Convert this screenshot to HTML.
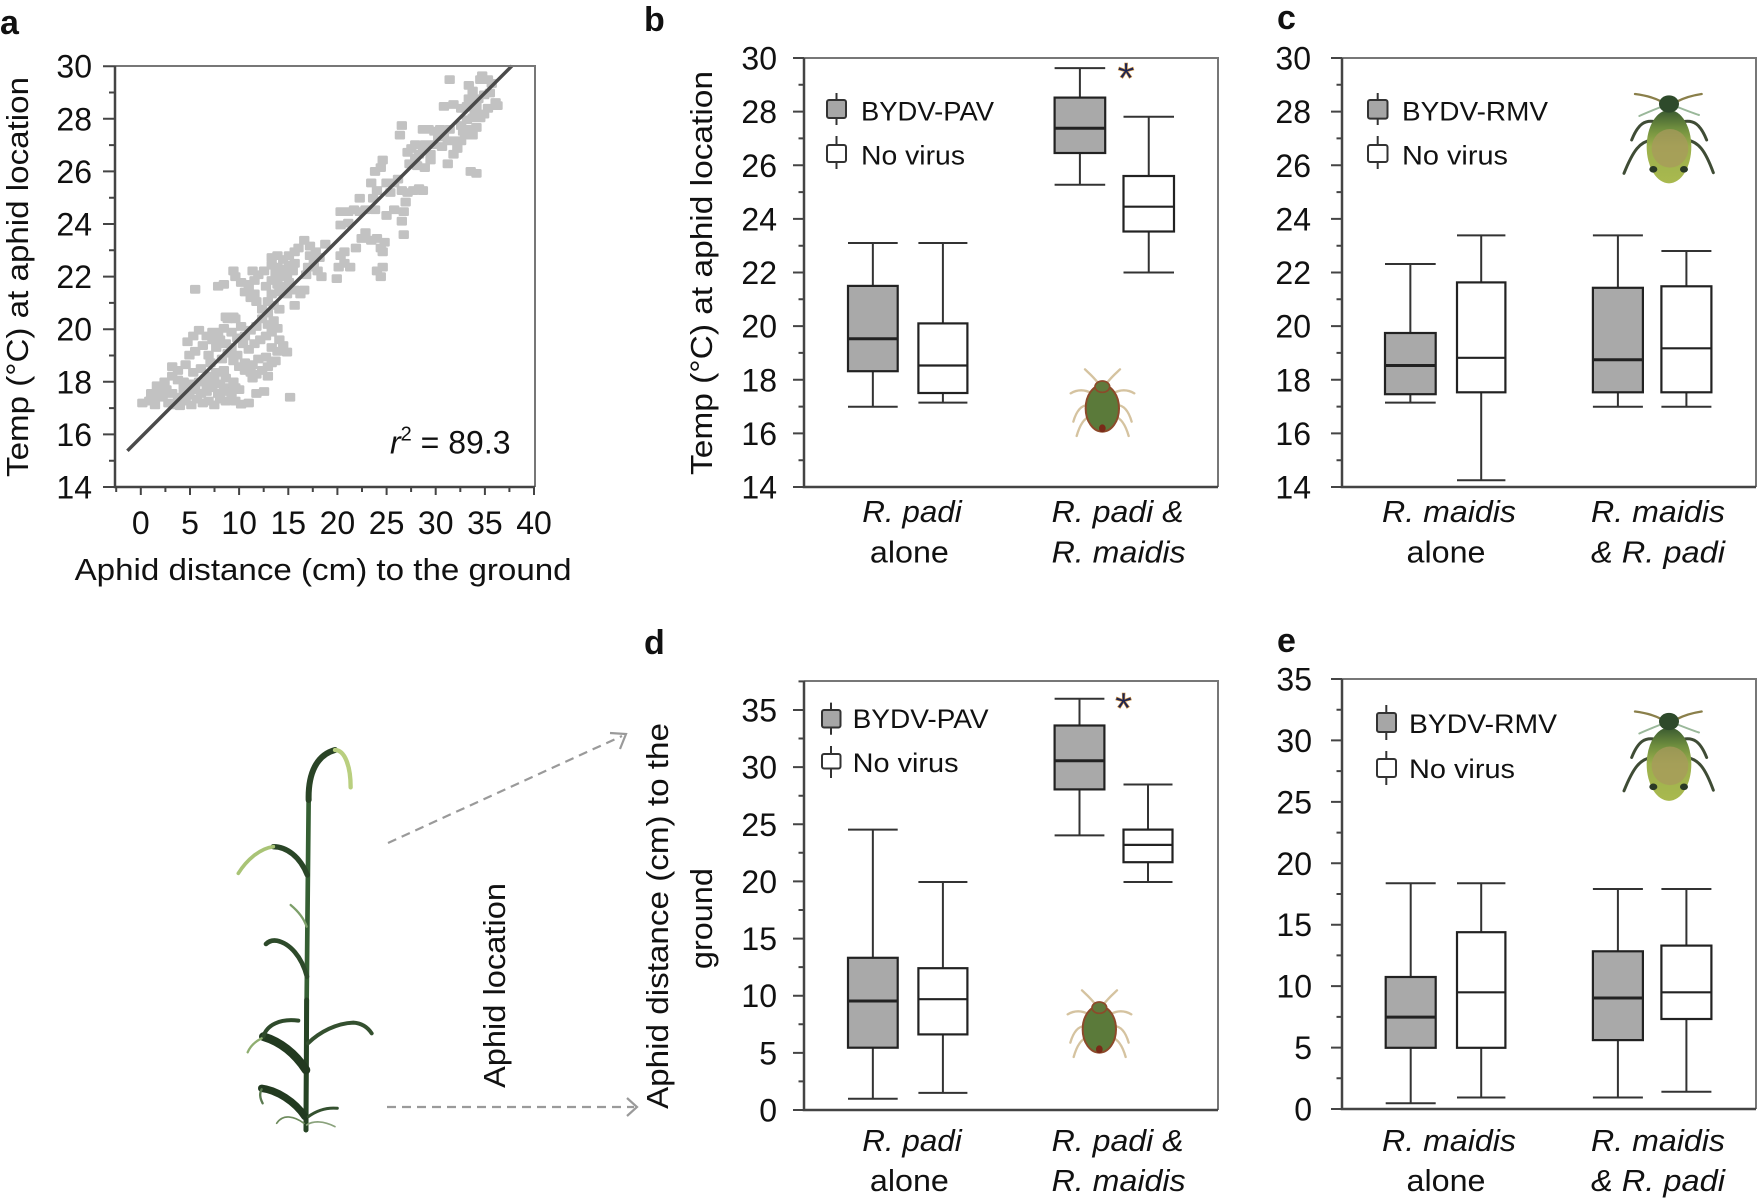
<!DOCTYPE html>
<html><head><meta charset="utf-8"><style>
html,body{margin:0;padding:0;background:#fff;}
svg{display:block;}
text{font-family:"Liberation Sans",Arial,Helvetica,sans-serif;fill:#111;}
</style></head><body>
<svg width="1760" height="1198" viewBox="0 0 1760 1198" xmlns="http://www.w3.org/2000/svg">
<defs>
<linearGradient id="ag" x1="0" y1="0" x2="0" y2="1">
<stop offset="0" stop-color="#3a5a30"/><stop offset="0.25" stop-color="#6f8e3e"/><stop offset="0.5" stop-color="#9cb04c"/><stop offset="1" stop-color="#a9b94f"/>
</linearGradient>
<g id="gaphid">
<g fill="none" stroke-linecap="round">
<path d="M165,95 C135,90 115,100 95,150 M250,95 C280,90 300,100 320,150 M155,150 C120,155 100,180 72,250 M260,150 C295,155 315,180 340,248" stroke="#3f4c35" stroke-width="9"/>
<path d="M185,35 C160,22 130,15 105,12 M230,35 C255,22 285,15 305,12" stroke="#8a7f4a" stroke-width="7"/>
<path d="M190,48 C165,58 140,68 118,78 M225,48 C250,58 275,68 297,75" stroke="#9ab89a" stroke-width="6"/>
</g>
<ellipse cx="207" cy="170" rx="67" ry="110" fill="url(#ag)"/>
<ellipse cx="210" cy="175" rx="55" ry="58" fill="#a89a5c" opacity="0.75"/>
<ellipse cx="207" cy="42" rx="30" ry="26" fill="#2e4a2b"/>
<ellipse cx="160" cy="238" rx="12" ry="10" fill="#2a3a26"/>
<ellipse cx="252" cy="238" rx="12" ry="10" fill="#2a3a26"/>
</g>
<g id="baphid">
<g fill="none" stroke="#d5c3a0" stroke-width="7" stroke-linecap="round">
<path d="M145,70 C130,50 115,38 105,28 M170,70 C185,50 200,38 210,28 M125,100 C105,88 82,88 62,100 M190,100 C210,88 233,88 253,100 M115,135 C95,135 80,150 70,185 M200,135 C220,135 235,150 245,185 M120,170 C100,175 88,200 80,228 M195,170 C215,175 228,200 236,228"/>
</g>
<ellipse cx="157" cy="145" rx="50" ry="70" fill="#5b7a3a" stroke="#8c4a2a" stroke-width="6"/>
<ellipse cx="157" cy="80" rx="22" ry="17" fill="#607a3c" stroke="#8c4a2a" stroke-width="5"/>
<ellipse cx="157" cy="205" rx="10" ry="12" fill="#7a2a18"/>
</g>
</defs>

<!-- ===== Panel a ===== -->
<text x="0" y="34" font-size="34" font-weight="bold">a</text>
<g transform="scale(0.3827)" fill="#c2c2c2" stroke="#c2c2c2" stroke-width="7" stroke-linejoin="round">
<path d="M362 1045h20v16h-20zM380 1040h20v16h-20zM395 1050h20v16h-20zM385 1020h20v16h-20zM400 1000h20v16h-20zM415 1030h20v16h-20zM430 1045h20v16h-20zM445 1050h20v16h-20zM460 1052h20v16h-20zM475 1040h20v16h-20zM490 1050h20v16h-20zM505 1035h20v16h-20zM520 1045h20v16h-20zM535 1040h20v16h-20zM550 1050h20v16h-20zM565 1035h20v16h-20zM580 1040h20v16h-20zM595 1025h20v16h-20zM605 1005h20v16h-20zM590 1005h20v16h-20zM575 1015h20v16h-20zM560 1020h20v16h-20zM545 1005h20v16h-20zM530 1015h20v16h-20zM515 1020h20v16h-20zM500 1010h20v16h-20zM485 1025h20v16h-20zM470 1020h20v16h-20zM455 1030h20v16h-20zM440 1020h20v16h-20zM425 1010h20v16h-20zM410 1015h20v16h-20zM395 1030h20v16h-20zM420 990h20v16h-20zM440 975h20v16h-20zM455 985h20v16h-20zM470 1000h20v16h-20zM490 995h20v16h-20zM510 990h20v16h-20zM530 995h20v16h-20zM550 985h20v16h-20zM565 995h20v16h-20zM580 980h20v16h-20zM600 990h20v16h-20zM615 1010h20v16h-20zM605 1040h20v16h-20zM620 1048h20v16h-20zM640 1045h20v16h-20zM660 1020h20v16h-20zM680 1015h20v16h-20zM748 1030h20v16h-20zM440 950h20v16h-20zM455 960h20v16h-20zM475 945h20v16h-20zM495 965h20v16h-20zM515 955h20v16h-20zM535 975h20v16h-20zM555 965h20v16h-20zM575 960h20v16h-20zM540 940h20v16h-20zM470 990h20v16h-20z"/>
<path d="M570 930h20v16h-20zM585 915h20v16h-20zM600 935h20v16h-20zM615 950h20v16h-20zM630 960h20v16h-20zM645 965h20v16h-20zM660 970h20v16h-20zM675 960h20v16h-20zM690 950h20v16h-20zM700 940h20v16h-20zM685 925h20v16h-20zM665 930h20v16h-20zM650 945h20v16h-20zM630 940h20v16h-20zM610 920h20v16h-20zM595 900h20v16h-20zM580 890h20v16h-20zM565 880h20v16h-20zM560 860h20v16h-20zM575 850h20v16h-20zM595 860h20v16h-20zM610 875h20v16h-20zM625 890h20v16h-20zM640 905h20v16h-20zM655 890h20v16h-20zM670 880h20v16h-20zM685 870h20v16h-20zM700 860h20v16h-20zM715 850h20v16h-20zM705 830h20v16h-20zM690 840h20v16h-20zM675 825h20v16h-20zM660 845h20v16h-20zM645 855h20v16h-20zM630 870h20v16h-20zM620 845h20v16h-20zM605 825h20v16h-20zM580 820h20v16h-20zM720 880h20v16h-20zM730 895h20v16h-20zM740 912h20v16h-20zM715 910h20v16h-20zM700 900h20v16h-20zM710 935h20v16h-20zM690 975h20v16h-20zM650 980h20v16h-20zM480 885h20v16h-20zM495 870h20v16h-20zM510 855h20v16h-20zM530 870h20v16h-20zM545 880h20v16h-20zM520 895h20v16h-20zM500 910h20v16h-20zM485 920h20v16h-20zM535 920h20v16h-20zM555 900h20v16h-20zM545 860h20v16h-20z"/>
<path d="M700 665h20v16h-20zM715 660h20v16h-20zM730 670h20v16h-20zM745 660h20v16h-20zM760 650h20v16h-20zM770 640h20v16h-20zM700 685h20v16h-20zM715 690h20v16h-20zM730 695h20v16h-20zM745 685h20v16h-20zM760 680h20v16h-20zM710 705h20v16h-20zM725 715h20v16h-20zM740 710h20v16h-20zM755 700h20v16h-20zM700 725h20v16h-20zM715 735h20v16h-20zM730 740h20v16h-20zM745 730h20v16h-20zM720 755h20v16h-20zM740 760h20v16h-20zM760 750h20v16h-20zM775 760h20v16h-20zM700 760h20v16h-20zM690 780h20v16h-20zM705 790h20v16h-20zM720 800h20v16h-20zM690 810h20v16h-20zM675 800h20v16h-20zM660 780h20v16h-20zM645 770h20v16h-20zM630 755h20v16h-20zM640 735h20v16h-20zM655 725h20v16h-20zM665 710h20v16h-20zM680 700h20v16h-20zM650 700h20v16h-20zM685 740h20v16h-20zM760 790h20v16h-20zM785 750h20v16h-20zM560 740h20v16h-20zM575 735h20v16h-20zM600 700h20v16h-20zM605 715h20v16h-20zM620 730h20v16h-20zM640 745h20v16h-20zM655 760h20v16h-20zM600 820h20v16h-20zM585 825h20v16h-20zM500 748h20v16h-20zM785 620h20v16h-20zM800 635h20v16h-20zM815 650h20v16h-20zM825 665h20v16h-20zM810 680h20v16h-20zM795 690h20v16h-20zM820 700h20v16h-20zM830 715h20v16h-20zM790 710h20v16h-20zM840 630h20v16h-20zM800 660h20v16h-20z"/>
<path d="M875 690h20v16h-20zM890 680h20v16h-20zM905 690h20v16h-20zM880 660h20v16h-20zM890 650h20v16h-20zM870 720h20v16h-20zM920 640h20v16h-20zM935 615h20v16h-20zM945 600h20v16h-20zM960 620h20v16h-20zM975 615h20v16h-20zM985 640h20v16h-20zM975 700h20v16h-20zM985 715h20v16h-20zM990 690h20v16h-20zM990 650h20v16h-20zM995 625h20v16h-20zM880 580h20v16h-20zM900 545h20v16h-20zM915 540h20v16h-20zM930 545h20v16h-20zM945 540h20v16h-20zM880 545h20v16h-20zM900 575h20v16h-20zM965 510h20v16h-20zM975 490h20v16h-20zM930 510h20v16h-20zM960 470h20v16h-20zM970 440h20v16h-20zM985 430h20v16h-20zM990 410h20v16h-20zM1000 470h20v16h-20zM1010 495h20v16h-20zM1020 470h20v16h-20zM1030 460h20v16h-20zM1040 490h20v16h-20zM1050 520h20v16h-20zM1045 545h20v16h-20zM1040 570h20v16h-20zM1045 605h20v16h-20zM1020 540h20v16h-20zM1000 555h20v16h-20zM970 540h20v16h-20zM1055 495h20v16h-20zM1070 490h20v16h-20zM1085 485h20v16h-20zM1095 490h20v16h-20z"/>
<path d="M1035 345h20v16h-20zM1040 320h20v16h-20zM1055 390h20v16h-20zM1065 380h20v16h-20zM1075 405h20v16h-20zM1085 395h20v16h-20zM1095 385h20v16h-20zM1075 370h20v16h-20zM1060 420h20v16h-20zM1080 425h20v16h-20zM1100 430h20v16h-20zM1115 410h20v16h-20zM1095 330h20v16h-20zM1110 330h20v16h-20zM1125 335h20v16h-20zM1140 330h20v16h-20zM1135 350h20v16h-20zM1150 345h20v16h-20zM1165 330h20v16h-20zM1160 420h20v16h-20zM1175 395h20v16h-20zM1185 380h20v16h-20zM1195 360h20v16h-20zM1205 345h20v16h-20zM1215 330h20v16h-20zM1195 320h20v16h-20zM1210 305h20v16h-20zM1225 300h20v16h-20zM1230 280h20v16h-20zM1245 300h20v16h-20zM1235 325h20v16h-20zM1225 345h20v16h-20zM1200 335h20v16h-20zM1180 360h20v16h-20zM1160 360h20v16h-20zM1145 375h20v16h-20zM1120 370h20v16h-20zM1100 370h20v16h-20zM1220 440h20v16h-20zM1235 445h20v16h-20zM1115 395h20v16h-20zM1165 200h20v16h-20zM1215 215h20v16h-20zM1225 230h20v16h-20zM1240 250h20v16h-20zM1255 240h20v16h-20zM1215 250h20v16h-20zM1250 190h20v16h-20zM1265 200h20v16h-20zM1275 210h20v16h-20zM1245 200h20v16h-20zM1285 260h20v16h-20zM1290 268h20v16h-20zM1195 275h20v16h-20zM1175 265h20v16h-20zM1150 270h20v16h-20zM1210 270h20v16h-20zM1235 270h20v16h-20zM1265 275h20v16h-20zM1255 290h20v16h-20zM1270 235h20v16h-20z"/>
</g>
<line x1="127.4" y1="450.8" x2="512" y2="65.8" stroke="#4a4a4a" stroke-width="3.5"/>
<path d="M115 66H535V487" fill="none" stroke="#777" stroke-width="2"/>
<path d="M115 66V487H535" fill="none" stroke="#444" stroke-width="2.5"/>
<path d="M103 487H115M103 434.4H115M103 381.8H115M103 329.2H115M103 276.6H115M103 224H115M103 171.4H115M103 118.8H115M103 66.2H115M109 460.7H115M109 408.1H115M109 355.5H115M109 302.9H115M109 250.3H115M109 197.7H115M109 145.1H115M109 92.5H115" stroke="#444" stroke-width="2"/>
<path d="M140.8 487V495M190 487V495M239.1 487V495M288.3 487V495M337.4 487V495M386.6 487V495M435.7 487V495M484.9 487V495M534 487V495M116.2 487V492M165.4 487V492M214.5 487V492M263.7 487V492M312.8 487V492M362 487V492M411.1 487V492M460.3 487V492M509.4 487V492" stroke="#444" stroke-width="2"/>
<g font-size="32" text-anchor="end">
<text x="92" y="498.5">14</text><text x="92" y="445.9">16</text><text x="92" y="393.3">18</text><text x="92" y="340.7">20</text><text x="92" y="288.1">22</text><text x="92" y="235.5">24</text><text x="92" y="182.9">26</text><text x="92" y="130.3">28</text><text x="92" y="77.7">30</text>
</g>
<g font-size="32" text-anchor="middle">
<text x="140.8" y="534">0</text><text x="190" y="534">5</text><text x="239.1" y="534">10</text><text x="288.3" y="534">15</text><text x="337.4" y="534">20</text><text x="386.6" y="534">25</text><text x="435.7" y="534">30</text><text x="484.9" y="534">35</text><text x="534" y="534">40</text>
</g>
<text x="74.6" y="580" font-size="31" textLength="497" lengthAdjust="spacingAndGlyphs">Aphid distance (cm) to the ground</text>
<text transform="translate(28,277) rotate(-90)" text-anchor="middle" font-size="31" textLength="400" lengthAdjust="spacingAndGlyphs">Temp (°C) at aphid location</text>
<text x="390" y="453.5" font-size="32"><tspan font-style="italic">r</tspan><tspan font-size="20" dy="-13">2</tspan><tspan dy="13"> = 89.3</tspan></text>

<!-- ===== Panel b ===== -->
<text x="644" y="31" font-size="34" font-weight="bold">b</text>
<path d="M804 58H1218V487" fill="none" stroke="#777" stroke-width="2"/>
<path d="M804 58V487H1218" fill="none" stroke="#444" stroke-width="2.5"/>
<path d="M793 487H804M793 433.4H804M793 379.8H804M793 326.1H804M793 272.5H804M793 218.9H804M793 165.3H804M793 111.6H804M793 58H804M798.5 460.2H804M798.5 406.6H804M798.5 352.9H804M798.5 299.3H804M798.5 245.7H804M798.5 192.1H804M798.5 138.4H804M798.5 84.8H804" stroke="#444" stroke-width="2"/>
<g font-size="32" text-anchor="end">
<text x="777" y="498.5">14</text><text x="777" y="444.9">16</text><text x="777" y="391.3">18</text><text x="777" y="337.6">20</text><text x="777" y="284">22</text><text x="777" y="230.4">24</text><text x="777" y="176.8">26</text><text x="777" y="123.1">28</text><text x="777" y="69.5">30</text>
</g>
<text transform="translate(712,273) rotate(-90)" text-anchor="middle" font-size="31" textLength="404" lengthAdjust="spacingAndGlyphs">Temp (°C) at aphid location</text>
<path d="M836.5 93V125M836.5 136V169" stroke="#333" stroke-width="2"/>
<rect x="827" y="100" width="19" height="18" rx="2" fill="#a6a6a6" stroke="#333" stroke-width="2"/>
<rect x="827" y="145" width="19" height="17" rx="2" fill="#fff" stroke="#333" stroke-width="2"/>
<text x="861" y="120.5" font-size="27" textLength="133" lengthAdjust="spacingAndGlyphs">BYDV-PAV</text>
<text x="861" y="164.6" font-size="27" textLength="104" lengthAdjust="spacingAndGlyphs">No virus</text>
<g stroke="#333" stroke-width="2" fill="none">
<path d="M872.85 243V285.9M872.85 371.2V406.8M848 243H897.7M848 406.8H897.7"/>
<path d="M942.9 243V323.4M942.9 393V402.6M918.4 243H967.4M918.4 402.6H967.4"/>
<path d="M1079.9 68.1V97.6M1079.9 153V184.8M1054.6 68.1H1105.2M1054.6 184.8H1105.2"/>
<path d="M1148.75 116.7V176M1148.75 231.5V272.5M1123.5 116.7H1174M1123.5 272.5H1174"/>
</g>
<g stroke="#222" stroke-width="2.2">
<rect x="848" y="285.9" width="49.7" height="85.3" fill="#a9a9a9"/>
<rect x="918.4" y="323.4" width="49" height="69.6" fill="#fff"/>
<rect x="1054.6" y="97.6" width="50.6" height="55.4" fill="#a9a9a9"/>
<rect x="1123.5" y="176" width="50.5" height="55.5" fill="#fff"/>
<path d="M848 338.7H897.7M1054.6 128.2H1105.2" stroke-width="3"/>
<path d="M918.4 365.5H967.4M1123.5 206.7H1174"/>
</g>
<text x="1126" y="93" font-size="44" text-anchor="middle" style="fill:#1c2452" stroke="#c98a3a" stroke-width="0.6">*</text>
<use href="#baphid" transform="translate(1050,360) scale(0.3333)"/>
<g font-size="31" font-style="italic" text-anchor="middle">
<text x="912" y="522" textLength="99.5" lengthAdjust="spacingAndGlyphs">R. padi</text>
<text x="1117.6" y="522" textLength="132" lengthAdjust="spacingAndGlyphs">R. padi &amp;</text>
<text x="1118.6" y="562.6" textLength="134" lengthAdjust="spacingAndGlyphs">R. maidis</text>
</g>
<text x="909.4" y="562.6" font-size="31" text-anchor="middle" textLength="79" lengthAdjust="spacingAndGlyphs">alone</text>

<!-- ===== Panel c ===== -->
<text x="1277" y="29" font-size="34" font-weight="bold">c</text>
<path d="M1342 58H1756V487" fill="none" stroke="#777" stroke-width="2"/>
<path d="M1342 58V487H1756" fill="none" stroke="#444" stroke-width="2.5"/>
<path d="M1331 487H1342M1331 433.4H1342M1331 379.8H1342M1331 326.1H1342M1331 272.5H1342M1331 218.9H1342M1331 165.3H1342M1331 111.6H1342M1331 58H1342M1336.5 460.2H1342M1336.5 406.6H1342M1336.5 352.9H1342M1336.5 299.3H1342M1336.5 245.7H1342M1336.5 192.1H1342M1336.5 138.4H1342M1336.5 84.8H1342" stroke="#444" stroke-width="2"/>
<g font-size="32" text-anchor="end">
<text x="1311" y="498.5">14</text><text x="1311" y="444.9">16</text><text x="1311" y="391.3">18</text><text x="1311" y="337.6">20</text><text x="1311" y="284">22</text><text x="1311" y="230.4">24</text><text x="1311" y="176.8">26</text><text x="1311" y="123.1">28</text><text x="1311" y="69.5">30</text>
</g>
<path d="M1377.7 93V125M1377.7 136V169" stroke="#333" stroke-width="2"/>
<rect x="1368" y="100" width="19.5" height="18.6" rx="2" fill="#a6a6a6" stroke="#333" stroke-width="2"/>
<rect x="1368" y="145" width="19.5" height="17" rx="2" fill="#fff" stroke="#333" stroke-width="2"/>
<text x="1402" y="120.5" font-size="27" textLength="146" lengthAdjust="spacingAndGlyphs">BYDV-RMV</text>
<text x="1402" y="164.6" font-size="27" textLength="106" lengthAdjust="spacingAndGlyphs">No virus</text>
<g stroke="#333" stroke-width="2" fill="none">
<path d="M1410.35 264V333M1410.35 394.2V402.6M1385 264H1435.7M1385 402.6H1435.7"/>
<path d="M1481.2 235.4V282.4M1481.2 392.3V480.3M1457 235.4H1505.4M1457 480.3H1505.4"/>
<path d="M1617.9 235.4V287.8M1617.9 392.3V406.8M1592.9 235.4H1642.9M1592.9 406.8H1642.9"/>
<path d="M1686.4 251V286.3M1686.4 392.3V406.8M1661.4 251H1711.4M1661.4 406.8H1711.4"/>
</g>
<g stroke="#222" stroke-width="2.2">
<rect x="1385" y="333" width="50.7" height="61.2" fill="#a9a9a9"/>
<rect x="1457" y="282.4" width="48.4" height="109.9" fill="#fff"/>
<rect x="1592.9" y="287.8" width="50" height="104.5" fill="#a9a9a9"/>
<rect x="1661.4" y="286.3" width="50" height="106" fill="#fff"/>
<path d="M1385 365.5H1435.7M1592.9 359.7H1642.9" stroke-width="3"/>
<path d="M1457 357.8H1505.4M1661.4 348.3H1711.4"/>
</g>
<use href="#gaphid" transform="translate(1600,90) scale(0.3333)"/>
<g font-size="31" font-style="italic" text-anchor="middle">
<text x="1449" y="522" textLength="134" lengthAdjust="spacingAndGlyphs">R. maidis</text>
<text x="1658" y="522" textLength="134" lengthAdjust="spacingAndGlyphs">R. maidis</text>
<text x="1658" y="562.6" textLength="134" lengthAdjust="spacingAndGlyphs">&amp; R. padi</text>
</g>
<text x="1446" y="562.6" font-size="31" text-anchor="middle" textLength="79" lengthAdjust="spacingAndGlyphs">alone</text>

<!-- ===== Plant / arrows ===== -->
<g transform="translate(180,700) scale(0.3333)" fill="none" stroke-linecap="round">
<path d="M378,1290 L380,900 L383,600 L386,300" stroke="#355f33" stroke-width="14"/>
<path d="M378,1290 L380,900" stroke="#264424" stroke-width="15"/>
<path d="M386,300 C384,220 410,165 465,150" stroke="#2a4426" stroke-width="18"/>
<path d="M465,150 C495,150 512,200 512,262" stroke="#b9cf7f" stroke-width="13"/>
<path d="M382,525 C360,470 320,440 280,440" stroke="#2a4627" stroke-width="16"/>
<path d="M280,440 C240,445 200,480 175,520" stroke="#a9c476" stroke-width="11"/>
<path d="M380,680 C370,650 350,630 332,615" stroke="#7d9f6a" stroke-width="7"/>
<path d="M381,830 C365,770 330,730 290,722 C275,720 265,725 258,732" stroke="#2d4a2a" stroke-width="14"/>
<path d="M384,1030 C420,995 470,970 520,968 C550,970 565,985 575,1000" stroke="#34502f" stroke-width="12"/>
<path d="M378,1110 C345,1060 300,1025 250,1010" stroke="#223a20" stroke-width="26"/>
<path d="M250,1010 C260,975 300,955 355,962" stroke="#2f4b2b" stroke-width="12"/>
<path d="M245,1015 C225,1025 210,1040 203,1057" stroke="#8fae70" stroke-width="7"/>
<path d="M375,1250 C345,1205 290,1170 245,1165" stroke="#223a20" stroke-width="22"/>
<path d="M245,1168 C238,1180 240,1195 248,1210" stroke="#5b7a50" stroke-width="7"/>
<path d="M385,1250 C410,1232 440,1222 472,1225" stroke="#34502f" stroke-width="9"/>
<path d="M372,1270 C345,1250 310,1240 290,1270" stroke="#6d8a5c" stroke-width="5"/>
<path d="M380,1275 C400,1262 430,1262 465,1280" stroke="#8aa27c" stroke-width="5"/>
</g>
<g stroke="#9a9a9a" stroke-width="2.2" fill="none">
<path d="M388,843 L622,736" stroke-dasharray="9 6"/>
<path d="M610,733 L626,734 L620,749"/>
<path d="M387,1107 L634,1107" stroke-dasharray="9 6"/>
<path d="M627,1098 L637,1107 L627,1116"/>
</g>
<text transform="translate(505,985.5) rotate(-90)" text-anchor="middle" font-size="31" textLength="205" lengthAdjust="spacingAndGlyphs">Aphid location</text>

<!-- ===== Panel d ===== -->
<text x="644" y="654" font-size="34" font-weight="bold">d</text>
<path d="M804 681H1218V1110" fill="none" stroke="#777" stroke-width="2"/>
<path d="M804 681V1110H1218" fill="none" stroke="#444" stroke-width="2.5"/>
<path d="M793 1110H804M793 1052.9H804M793 995.7H804M793 938.6H804M793 881.4H804M793 824.3H804M793 767.1H804M793 710H804M798.5 1081.4H804M798.5 1024.3H804M798.5 967.1H804M798.5 910H804M798.5 852.8H804M798.5 795.7H804M798.5 738.5H804M798.5 681.4H804" stroke="#444" stroke-width="2"/>
<g font-size="32" text-anchor="end">
<text x="777" y="1121.5">0</text><text x="777" y="1064.4">5</text><text x="777" y="1007.2">10</text><text x="777" y="950.1">15</text><text x="777" y="892.9">20</text><text x="777" y="835.8">25</text><text x="777" y="778.6">30</text><text x="777" y="721.5">35</text>
</g>
<text transform="translate(668,916) rotate(-90)" text-anchor="middle" font-size="31" textLength="386" lengthAdjust="spacingAndGlyphs">Aphid distance (cm) to the</text>
<text transform="translate(712,918.6) rotate(-90)" text-anchor="middle" font-size="31" textLength="101" lengthAdjust="spacingAndGlyphs">ground</text>
<path d="M831 702.6V734.7M831 746V778" stroke="#333" stroke-width="2"/>
<rect x="822" y="710" width="18.5" height="17.5" rx="2" fill="#a6a6a6" stroke="#333" stroke-width="2"/>
<rect x="822" y="754" width="18.5" height="14.5" rx="2" fill="#fff" stroke="#333" stroke-width="2"/>
<text x="852.6" y="728.2" font-size="27" textLength="136" lengthAdjust="spacingAndGlyphs">BYDV-PAV</text>
<text x="852.6" y="772.2" font-size="27" textLength="106" lengthAdjust="spacingAndGlyphs">No virus</text>
<g stroke="#333" stroke-width="2" fill="none">
<path d="M872.85 829.6V957.8M872.85 1047.7V1098.7M848 829.6H897.7M848 1098.7H897.7"/>
<path d="M942.9 882V968.2M942.9 1034.4V1092.9M918.4 882H967.4M918.4 1092.9H967.4"/>
<path d="M1079.5 698.7V725.5M1079.5 789.4V835.4M1054.6 698.7H1104.4M1054.6 835.4H1104.4"/>
<path d="M1148 784.5V829.6M1148 862.2V882M1123.5 784.5H1172.5M1123.5 882H1172.5"/>
</g>
<g stroke="#222" stroke-width="2.2">
<rect x="848" y="957.8" width="49.7" height="89.9" fill="#a9a9a9"/>
<rect x="918.4" y="968.2" width="49" height="66.2" fill="#fff"/>
<rect x="1054.6" y="725.5" width="49.8" height="63.9" fill="#a9a9a9"/>
<rect x="1123.5" y="829.6" width="49" height="32.6" fill="#fff"/>
<path d="M848 1001H897.7M1054.6 760.7H1104.4" stroke-width="3"/>
<path d="M918.4 999.2H967.4M1123.5 844.9H1172.5"/>
</g>
<text x="1123.5" y="723" font-size="44" text-anchor="middle" style="fill:#1c2452" stroke="#c98a3a" stroke-width="0.6">*</text>
<use href="#baphid" transform="translate(1047,981) scale(0.3333)"/>
<g font-size="31" font-style="italic" text-anchor="middle">
<text x="912" y="1151" textLength="99.5" lengthAdjust="spacingAndGlyphs">R. padi</text>
<text x="1117.6" y="1151" textLength="132" lengthAdjust="spacingAndGlyphs">R. padi &amp;</text>
<text x="1118.6" y="1191" textLength="134" lengthAdjust="spacingAndGlyphs">R. maidis</text>
</g>
<text x="909.4" y="1191" font-size="31" text-anchor="middle" textLength="79" lengthAdjust="spacingAndGlyphs">alone</text>

<!-- ===== Panel e ===== -->
<text x="1277" y="652" font-size="34" font-weight="bold">e</text>
<path d="M1342 679H1756V1109" fill="none" stroke="#777" stroke-width="2"/>
<path d="M1342 679V1109H1756" fill="none" stroke="#444" stroke-width="2.5"/>
<path d="M1331 1109H1342M1331 1047.6H1342M1331 986.1H1342M1331 924.7H1342M1331 863.3H1342M1331 801.9H1342M1331 740.4H1342M1331 679H1342M1336.5 1078.3H1342M1336.5 1016.9H1342M1336.5 955.4H1342M1336.5 894H1342M1336.5 832.6H1342M1336.5 771.1H1342M1336.5 709.7H1342" stroke="#444" stroke-width="2"/>
<g font-size="32" text-anchor="end">
<text x="1312" y="1120.5">0</text><text x="1312" y="1059.1">5</text><text x="1312" y="997.6">10</text><text x="1312" y="936.2">15</text><text x="1312" y="874.8">20</text><text x="1312" y="813.4">25</text><text x="1312" y="751.9">30</text><text x="1312" y="690.5">35</text>
</g>
<path d="M1386.3 705V740M1386.3 751V785" stroke="#333" stroke-width="2"/>
<rect x="1377" y="713" width="19" height="19" rx="2" fill="#a6a6a6" stroke="#333" stroke-width="2"/>
<rect x="1377" y="759" width="19" height="18" rx="2" fill="#fff" stroke="#333" stroke-width="2"/>
<text x="1409" y="733.2" font-size="27" textLength="148" lengthAdjust="spacingAndGlyphs">BYDV-RMV</text>
<text x="1409" y="778" font-size="27" textLength="106" lengthAdjust="spacingAndGlyphs">No virus</text>
<g stroke="#333" stroke-width="2" fill="none">
<path d="M1410.7 883.2V977M1410.7 1047.8V1103.2M1385.7 883.2H1435.7M1385.7 1103.2H1435.7"/>
<path d="M1481.2 883.2V932.2M1481.2 1047.8V1097.5M1457 883.2H1505.4M1457 1097.5H1505.4"/>
<path d="M1617.9 889V951.3M1617.9 1040.1V1097.5M1592.9 889H1642.9M1592.9 1097.5H1642.9"/>
<path d="M1686.4 889V945.6M1686.4 1019V1091.8M1661.4 889H1711.4M1661.4 1091.8H1711.4"/>
</g>
<g stroke="#222" stroke-width="2.2">
<rect x="1385.7" y="977" width="50" height="70.8" fill="#a9a9a9"/>
<rect x="1457" y="932.2" width="48.4" height="115.6" fill="#fff"/>
<rect x="1592.9" y="951.3" width="50" height="88.8" fill="#a9a9a9"/>
<rect x="1661.4" y="945.6" width="50" height="73.4" fill="#fff"/>
<path d="M1385.7 1017.1H1435.7M1592.9 998H1642.9" stroke-width="3"/>
<path d="M1457 992.3H1505.4M1661.4 992.3H1711.4"/>
</g>
<use href="#gaphid" transform="translate(1600,707.5) scale(0.3333)"/>
<g font-size="31" font-style="italic" text-anchor="middle">
<text x="1449" y="1151" textLength="134" lengthAdjust="spacingAndGlyphs">R. maidis</text>
<text x="1658" y="1151" textLength="134" lengthAdjust="spacingAndGlyphs">R. maidis</text>
<text x="1658" y="1191" textLength="134" lengthAdjust="spacingAndGlyphs">&amp; R. padi</text>
</g>
<text x="1446" y="1191" font-size="31" text-anchor="middle" textLength="79" lengthAdjust="spacingAndGlyphs">alone</text>
</svg>
</body></html>
